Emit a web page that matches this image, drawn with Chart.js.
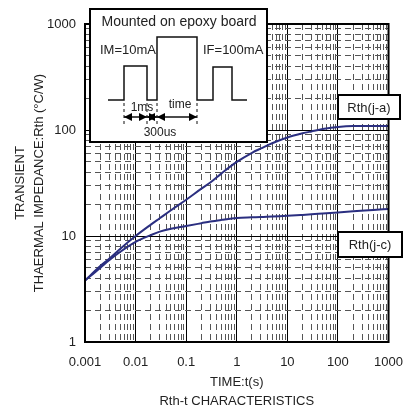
<!DOCTYPE html>
<html><head><meta charset="utf-8">
<script src="https://cdn.jsdelivr.net/npm/chart.js@4.4.1/dist/chart.umd.min.js"></script>
<style>html,body{margin:0;padding:0;background:#fff;}canvas{display:block;}</style>
</head><body>
<canvas id="c" width="416" height="412"></canvas>
<script>
// ---- data ----
const timeValues = [0.001, 0.002, 0.003, 0.005, 0.01, 0.02, 0.03, 0.05, 0.1, 0.2, 0.3, 0.5, 1, 2, 3, 5, 10, 20, 30, 50, 100, 200, 500, 1000];
const rthJA = [3.8, 5.2, 6.1, 7.6, 10, 12.8, 14.7, 17.5, 22, 28, 32, 39, 50, 61, 67, 75, 85, 93, 97, 102, 107, 109, 109, 109];
const rthJC = [3.8, 5.0, 5.9, 7.1, 8.8, 10.2, 11, 11.7, 12.4, 13.2, 13.7, 14.2, 14.8, 15.0, 15.1, 15.3, 15.5, 15.8, 16.0, 16.3, 16.7, 17.1, 17.6, 18];
const xTickLabels = ['0.001', '0.01', '0.1', '1', '10', '100', '1000'];
const yTickLabels = ['1', '10', '100', '1000'];
const seriesNames = ['Rth(j-a)', 'Rth(j-c)'];
const xTitle = ['TIME:t(s)', 'Rth-t CHARACTERISTICS'];
const yTitle = ['TRANSIENT', 'THAERMAL IMPEDANCE:Rth (°C/W)'];
const insetTexts = { title: 'Mounted on epoxy board', im: 'IM=10mA', iff: 'IF=100mA', t1: '1ms', t2: '300us', t3: 'time' };

const FONT = '"Liberation Sans", Arial, Helvetica, sans-serif';
const LINE = '#2b2f80';

function logTicks(labels) {
  const lo = parseFloat(labels[0]), hi = parseFloat(labels[labels.length - 1]);
  const out = [];
  for (let e = Math.round(Math.log10(lo)); e < Math.round(Math.log10(hi)); e++) {
    for (let m = 1; m < 10; m++) out.push(parseFloat((m * Math.pow(10, e)).toPrecision(6)));
  }
  out.push(hi);
  return out;
}
const isMajor = v => Math.abs(Math.log10(v) - Math.round(Math.log10(v))) < 1e-6;
const labelFor = (labels, v) => labels.find(l => Math.abs(parseFloat(l) - v) / v < 1e-6) || '';
const xTickValues = logTicks(xTickLabels);
const yTickValues = logTicks(yTickLabels);

const gridOpts = {
  color: ctx => (ctx.tick && isMajor(ctx.tick.value)) ? '#000' : '#555',
  lineWidth: 1,
  drawTicks: false
};
const borderOpts = {
  display: false,
  dash: ctx => (ctx.tick && !isMajor(ctx.tick.value)) ? [6, 4] : []
};

function arrowHead(ctx, x, y, dir) {
  ctx.beginPath();
  ctx.moveTo(x, y);
  ctx.lineTo(x - dir * 8, y - 4);
  ctx.lineTo(x - dir * 8, y + 4);
  ctx.closePath();
  ctx.fill();
}
function dblArrow(ctx, x1, x2, y) {
  ctx.beginPath(); ctx.moveTo(x1, y); ctx.lineTo(x2, y); ctx.stroke();
  arrowHead(ctx, x1, y, -1);
  arrowHead(ctx, x2, y, 1);
}
function labelBox(ctx, text, x1, y1, x2, y2) {
  ctx.fillStyle = '#fff';
  ctx.fillRect(x1, y1, x2 - x1, y2 - y1);
  ctx.strokeStyle = '#000'; ctx.lineWidth = 2;
  ctx.strokeRect(x1, y1, x2 - x1, y2 - y1);
  ctx.fillStyle = '#222';
  ctx.font = '13px ' + FONT;
  ctx.textAlign = 'center'; ctx.textBaseline = 'middle';
  ctx.fillText(text, (x1 + x2) / 2, (y1 + y2) / 2 + 1);
}

const overlay = {
  id: 'overlay',
  afterDraw(chart) {
    const ctx = chart.ctx, a = chart.chartArea;
    ctx.save();
    // plot frame
    ctx.strokeStyle = '#000'; ctx.lineWidth = 2;
    ctx.strokeRect(a.left, a.top, a.right - a.left, a.bottom - a.top);
    // inset box
    ctx.fillStyle = '#fff';
    ctx.fillRect(90, 9, 177, 133);
    ctx.strokeRect(90, 9, 177, 133);
    ctx.fillStyle = '#222';
    ctx.font = '14px ' + FONT;
    ctx.textBaseline = 'middle';
    ctx.textAlign = 'center';
    ctx.fillText(insetTexts.title, 179, 22);
    ctx.font = '13px ' + FONT;
    ctx.textAlign = 'left';
    ctx.fillText(insetTexts.im, 100, 50);
    ctx.fillText(insetTexts.iff, 203, 50);
    // waveform
    ctx.strokeStyle = '#111'; ctx.lineWidth = 1.5;
    ctx.beginPath();
    const wf = [[108,100],[124,100],[124,66],[147,66],[147,100],[157,100],[157,37],[197,37],[197,100],[213,100],[213,67],[232,67],[232,100],[247,100]];
    wf.forEach((p, i) => i ? ctx.lineTo(p[0], p[1]) : ctx.moveTo(p[0], p[1]));
    ctx.stroke();
    // dashed markers
    ctx.setLineDash([3, 3]); ctx.lineWidth = 1;
    [124, 147, 157, 197].forEach(x => { ctx.beginPath(); ctx.moveTo(x, 103); ctx.lineTo(x, 126); ctx.stroke(); });
    ctx.setLineDash([]);
    ctx.fillStyle = '#000'; ctx.lineWidth = 1.5;
    dblArrow(ctx, 124, 147, 117);
    dblArrow(ctx, 147, 157, 117);
    dblArrow(ctx, 157, 197, 117);
    ctx.fillStyle = '#222';
    ctx.font = '12px ' + FONT;
    ctx.textAlign = 'center';
    ctx.fillText(insetTexts.t1, 142, 108);
    ctx.fillText(insetTexts.t3, 180, 105);
    ctx.fillText(insetTexts.t2, 160, 133);
    // series labels
    labelBox(ctx, seriesNames[0], 338, 95, 400, 119);
    labelBox(ctx, seriesNames[1], 338, 232, 402, 257);
    ctx.restore();
  }
};

new Chart(document.getElementById('c'), {
  type: 'line',
  data: {
    datasets: [
      { label: seriesNames[0], data: timeValues.map((t, i) => ({ x: t, y: rthJA[i] })) },
      { label: seriesNames[1], data: timeValues.map((t, i) => ({ x: t, y: rthJC[i] })) }
    ].map(d => Object.assign(d, { borderColor: LINE, borderWidth: 2, pointRadius: 0, fill: false, cubicInterpolationMode: 'monotone' }))
  },
  options: {
    responsive: false,
    animation: false,
    devicePixelRatio: 1,
    layout: { padding: { top: 24, right: 17, left: 0, bottom: 0 } },
    plugins: { legend: { display: false }, tooltip: { enabled: false } },
    scales: {
      x: {
        type: 'logarithmic',
        min: parseFloat(xTickLabels[0]), max: parseFloat(xTickLabels[xTickLabels.length - 1]),
        afterBuildTicks: s => { s.ticks = xTickValues.map(v => ({ value: v, major: isMajor(v) })); },
        afterFit: s => { s.height = 70; },
        ticks: { autoSkip: false, maxRotation: 0, minRotation: 0, padding: 13, color: '#222', font: { family: FONT, size: 13 },
          callback: v => labelFor(xTickLabels, v) },
        grid: gridOpts, border: borderOpts,
        title: { display: true, text: xTitle, color: '#222', font: { family: FONT, size: 13, lineHeight: '19px' }, padding: { top: 0, bottom: 1.5 } }
      },
      y: {
        type: 'logarithmic',
        min: parseFloat(yTickLabels[0]), max: parseFloat(yTickLabels[yTickLabels.length - 1]),
        afterBuildTicks: s => { s.ticks = yTickValues.map(v => ({ value: v, major: isMajor(v) })); },
        afterFit: s => { s.width = 85; },
        ticks: { autoSkip: false, padding: 9, color: '#222', font: { family: FONT, size: 13 },
          callback: v => labelFor(yTickLabels, v) },
        grid: gridOpts, border: borderOpts,
        title: { display: true, text: yTitle, color: '#222', font: { family: FONT, size: 13, lineHeight: '18.5px' }, padding: { top: 11.5, bottom: 0 } }
      }
    }
  },
  plugins: [overlay]
});
</script>
</body></html>
